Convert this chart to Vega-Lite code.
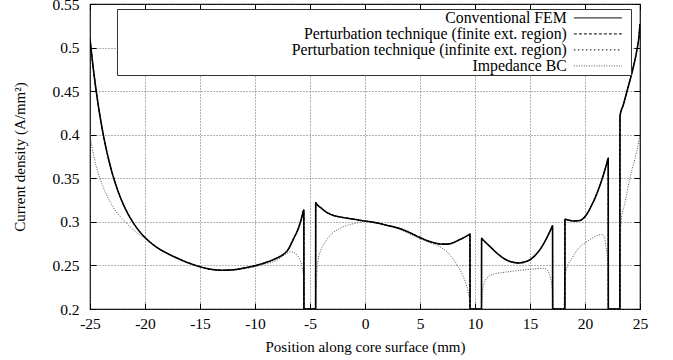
{
  "$schema": "https://vega.github.io/schema/vega-lite/v6.json",
  "width": 550,
  "height": 305,
  "autosize": {"type": "none"},
  "padding": {"left": 90, "top": 4, "right": 33, "bottom": 51},
  "background": "#ffffff",
  "config": {
    "font": "Liberation Serif",
    "view": {"stroke": "#000000", "strokeWidth": 1.2}
  },
  "datasets": {
    "main": [
      {"x": -25, "y": 0.510}, {"x": -24.75, "y": 0.4812}, {"x": -24.5, "y": 0.456}, {"x": -24.25, "y": 0.4339},
      {"x": -24, "y": 0.4145}, {"x": -23.75, "y": 0.3973}, {"x": -23.5, "y": 0.3822}, {"x": -23.25, "y": 0.3688},
      {"x": -23, "y": 0.3569}, {"x": -22.75, "y": 0.3464}, {"x": -22.5, "y": 0.3369}, {"x": -22.25, "y": 0.3285},
      {"x": -22, "y": 0.3209}, {"x": -21.75, "y": 0.3142}, {"x": -21.5, "y": 0.3081}, {"x": -21.25, "y": 0.3026},
      {"x": -21, "y": 0.2976}, {"x": -20.5, "y": 0.2891}, {"x": -20, "y": 0.2821}, {"x": -19.5, "y": 0.2763},
      {"x": -19, "y": 0.2714}, {"x": -18, "y": 0.264}, {"x": -17, "y": 0.258}, {"x": -16, "y": 0.2527},
      {"x": -15, "y": 0.2486}, {"x": -14, "y": 0.2456}, {"x": -13, "y": 0.2445}, {"x": -12, "y": 0.245},
      {"x": -11, "y": 0.247}, {"x": -10, "y": 0.2497}, {"x": -9, "y": 0.2535}, {"x": -8, "y": 0.2585},
      {"x": -7.5, "y": 0.262}, {"x": -7, "y": 0.268}, {"x": -6.5, "y": 0.2805}, {"x": -6, "y": 0.2945},
      {"x": -5.75, "y": 0.305}, {"x": -5.56, "y": 0.3135},
      {"x": -5.55, "y": 0.2}, {"x": -4.49, "y": 0.2}, {"x": -4.48, "y": 0.322}, {"x": -4.4, "y": 0.3205},
      {"x": -4, "y": 0.316}, {"x": -3.5, "y": 0.311}, {"x": -3, "y": 0.308}, {"x": -2, "y": 0.305},
      {"x": -1, "y": 0.303}, {"x": 0, "y": 0.301}, {"x": 1, "y": 0.299}, {"x": 2, "y": 0.296},
      {"x": 3, "y": 0.293}, {"x": 4, "y": 0.288}, {"x": 5, "y": 0.282}, {"x": 6, "y": 0.277},
      {"x": 7, "y": 0.2745}, {"x": 7.5, "y": 0.2745}, {"x": 8, "y": 0.276}, {"x": 8.5, "y": 0.279},
      {"x": 9, "y": 0.282}, {"x": 9.45, "y": 0.2853}, {"x": 9.54, "y": 0.286}, {"x": 9.55, "y": 0.2},
      {"x": 10.59, "y": 0.2}, {"x": 10.6, "y": 0.281}, {"x": 10.7, "y": 0.2797}, {"x": 11, "y": 0.276},
      {"x": 11.5, "y": 0.270}, {"x": 12, "y": 0.264}, {"x": 12.5, "y": 0.259}, {"x": 13, "y": 0.2555},
      {"x": 13.5, "y": 0.2535}, {"x": 14, "y": 0.2528}, {"x": 14.5, "y": 0.254}, {"x": 15, "y": 0.2565},
      {"x": 15.5, "y": 0.262}, {"x": 16, "y": 0.270}, {"x": 16.5, "y": 0.281}, {"x": 16.95, "y": 0.2928},
      {"x": 17.05, "y": 0.2955}, {"x": 17.06, "y": 0.2}, {"x": 18.17, "y": 0.2}, {"x": 18.18, "y": 0.303},
      {"x": 18.5, "y": 0.302}, {"x": 19, "y": 0.301}, {"x": 19.5, "y": 0.3015}, {"x": 20, "y": 0.306},
      {"x": 20.3, "y": 0.3116}, {"x": 20.6, "y": 0.319}, {"x": 20.9, "y": 0.327}, {"x": 21.2, "y": 0.3365},
      {"x": 21.6, "y": 0.351}, {"x": 22.0, "y": 0.368}, {"x": 22.11, "y": 0.3728}, {"x": 22.12, "y": 0.2},
      {"x": 23.17, "y": 0.2}, {"x": 23.18, "y": 0.421}, {"x": 23.5, "y": 0.435}, {"x": 23.8, "y": 0.449},
      {"x": 24.1, "y": 0.463}, {"x": 24.4, "y": 0.478}, {"x": 24.7, "y": 0.496}, {"x": 24.9, "y": 0.512},
      {"x": 25, "y": 0.527}
    ],
    "imp": [
      {"x": -25, "y": 0.400}, {"x": -24.8, "y": 0.385}, {"x": -24.6, "y": 0.372}, {"x": -24.35, "y": 0.360},
      {"x": -24.1, "y": 0.350}, {"x": -23.8, "y": 0.340}, {"x": -23.5, "y": 0.331}, {"x": -23.2, "y": 0.3235},
      {"x": -22.9, "y": 0.317}, {"x": -22.6, "y": 0.3115}, {"x": -22.3, "y": 0.3068}, {"x": -21.8, "y": 0.300},
      {"x": -21.35, "y": 0.2942}, {"x": -20.9, "y": 0.289}, {"x": -20.45, "y": 0.2848},
      {"x": -20, "y": 0.281}, {"x": -19, "y": 0.2712}, {"x": -18, "y": 0.2637}, {"x": -17, "y": 0.2575},
      {"x": -16, "y": 0.2522}, {"x": -15, "y": 0.2482}, {"x": -14, "y": 0.2453}, {"x": -13, "y": 0.2442},
      {"x": -12, "y": 0.2447}, {"x": -11, "y": 0.2462}, {"x": -10, "y": 0.2485}, {"x": -9, "y": 0.252},
      {"x": -8, "y": 0.256}, {"x": -7.5, "y": 0.2605}, {"x": -7, "y": 0.2645}, {"x": -6.8, "y": 0.2657},
      {"x": -6.5, "y": 0.265}, {"x": -6.2, "y": 0.262}, {"x": -5.9, "y": 0.256}, {"x": -5.7, "y": 0.247},
      {"x": -5.56, "y": 0.233}, {"x": -5.55, "y": 0.2}, {"x": -4.49, "y": 0.2}, {"x": -4.4, "y": 0.235},
      {"x": -4.25, "y": 0.257}, {"x": -4, "y": 0.268}, {"x": -3.5, "y": 0.279}, {"x": -3, "y": 0.2865},
      {"x": -2.3, "y": 0.2925}, {"x": -1.5, "y": 0.2965}, {"x": -1, "y": 0.298}, {"x": 0, "y": 0.3005},
      {"x": 1, "y": 0.2985}, {"x": 2, "y": 0.2955}, {"x": 3, "y": 0.292}, {"x": 4, "y": 0.2865},
      {"x": 5, "y": 0.2805}, {"x": 6, "y": 0.2755}, {"x": 6.8, "y": 0.2715}, {"x": 7.5, "y": 0.265},
      {"x": 8, "y": 0.2575}, {"x": 8.5, "y": 0.248}, {"x": 8.9, "y": 0.238}, {"x": 9.2, "y": 0.228},
      {"x": 9.4, "y": 0.218}, {"x": 9.54, "y": 0.205}, {"x": 9.55, "y": 0.2}, {"x": 10.59, "y": 0.2},
      {"x": 10.65, "y": 0.213}, {"x": 10.75, "y": 0.2256}, {"x": 11.06, "y": 0.235}, {"x": 11.67, "y": 0.24},
      {"x": 12.5, "y": 0.2418}, {"x": 13.2, "y": 0.243}, {"x": 14, "y": 0.2443}, {"x": 15, "y": 0.2455},
      {"x": 15.8, "y": 0.2465}, {"x": 16.2, "y": 0.2467}, {"x": 16.5, "y": 0.2455}, {"x": 16.67, "y": 0.243},
      {"x": 16.85, "y": 0.236}, {"x": 17.0, "y": 0.226}, {"x": 17.06, "y": 0.215}, {"x": 17.07, "y": 0.2},
      {"x": 18.09, "y": 0.2}, {"x": 18.15, "y": 0.235}, {"x": 18.33, "y": 0.2467}, {"x": 18.8, "y": 0.258},
      {"x": 19.4, "y": 0.2696}, {"x": 20.15, "y": 0.277}, {"x": 20.9, "y": 0.283}, {"x": 21.5, "y": 0.2856},
      {"x": 21.75, "y": 0.283}, {"x": 21.9, "y": 0.2715}, {"x": 22.05, "y": 0.256}, {"x": 22.11, "y": 0.24},
      {"x": 22.12, "y": 0.2}, {"x": 23.17, "y": 0.2}, {"x": 23.2, "y": 0.27}, {"x": 23.3, "y": 0.303},
      {"x": 23.6, "y": 0.32}, {"x": 24.1, "y": 0.351}, {"x": 24.7, "y": 0.381}, {"x": 25, "y": 0.40}
    ]
  },
  "layer": [
    {
      "data": {"name": "imp"},
      "mark": {"type": "line", "strokeWidth": 1, "clip": true, "interpolate": "monotone"},
      "encoding": {
        "x": {
          "field": "x", "type": "quantitative",
          "scale": {"domain": [-25, 25], "nice": false, "zero": false},
          "axis": {
            "orient": "bottom", "values": [-25, -20, -15, -10, -5, 0, 5, 10, 15, 20, 25],
            "labelExpr": "datum.value < 0 ? '-' + (-datum.value) : '' + datum.value",
            "title": "Position along core surface (mm)",
            "grid": true, "gridColor": "#555555", "gridDash": [1, 2], "gridWidth": 0.9,
            "domain": false, "ticks": true, "tickSize": -6, "tickColor": "#000000", "tickWidth": 1,
            "labelPadding": 13, "labelFontSize": 15.5, "labelColor": "#000000", "labelFlush": false,
            "labelFont": "Liberation Serif",
            "titleFont": "Liberation Serif", "titleFontSize": 15, "titleFontWeight": "normal", "titleColor": "#000000", "titlePadding": 8
          }
        },
        "y": {
          "field": "y", "type": "quantitative",
          "scale": {"domain": [0.2, 0.55], "nice": false, "zero": false},
          "axis": {
            "orient": "left", "values": [0.2, 0.25, 0.3, 0.35, 0.4, 0.45, 0.5, 0.55], "format": ".2~f",
            "title": "Current density (A/mm²)",
            "grid": true, "gridColor": "#555555", "gridDash": [1, 2], "gridWidth": 0.9,
            "domain": false, "ticks": true, "tickSize": -6, "tickColor": "#000000", "tickWidth": 1,
            "labelPadding": 17, "labelFontSize": 15.5, "labelColor": "#000000", "labelFlush": false,
            "labelFont": "Liberation Serif",
            "titleFont": "Liberation Serif", "titleFontSize": 15, "titleFontWeight": "normal", "titleColor": "#000000", "titlePadding": 24
          }
        },
        "color": {
          "datum": "Impedance BC", "type": "nominal",
          "scale": {
            "domain": ["Conventional FEM", "Perturbation technique (finite ext. region)", "Perturbation technique (infinite ext. region)", "Impedance BC"],
            "range": ["#000000", "#000000", "#000000", "#555555"]
          },
          "legend": {
            "title": " ", "titleOrient": "right", "titlePadding": 6, "titleFontSize": 15,
            "orient": "none", "legendX": 27, "legendY": 5, "direction": "vertical",
            "fillColor": "#ffffff", "strokeColor": "#333333", "padding": 1,
            "symbolType": "M-4,0H4", "symbolSize": 144, "symbolStrokeWidth": 1,
            "labelAlign": "right", "labelOffset": -39, "symbolOffset": 472, "labelLimit": 600,
            "labelFontSize": 15.8, "labelColor": "#000000", "labelFont": "Liberation Serif",
            "rowPadding": -2.6
          }
        },
        "strokeDash": {
          "datum": "Impedance BC", "type": "nominal",
          "scale": {
            "domain": ["Conventional FEM", "Perturbation technique (finite ext. region)", "Perturbation technique (infinite ext. region)", "Impedance BC"],
            "range": [[1, 0], [3, 2], [1.5, 2.5], [1, 1.5]]
          },
          "legend": {
            "title": " ", "titleOrient": "right", "titlePadding": 6, "titleFontSize": 15,
            "orient": "none", "legendX": 27, "legendY": 5, "direction": "vertical",
            "fillColor": "#ffffff", "strokeColor": "#333333", "padding": 1,
            "symbolType": "M-4,0H4", "symbolSize": 144, "symbolStrokeWidth": 1,
            "labelAlign": "right", "labelOffset": -39, "symbolOffset": 472, "labelLimit": 600,
            "labelFontSize": 15.8, "labelColor": "#000000", "labelFont": "Liberation Serif",
            "rowPadding": -2.6
          }
        }
      }
    },
    {
      "data": {"name": "main"},
      "mark": {"type": "line", "strokeWidth": 1, "clip": true, "interpolate": "monotone"},
      "encoding": {
        "x": {
          "field": "x", "type": "quantitative",
          "axis": {
            "orient": "top", "values": [-25, -20, -15, -10, -5, 0, 5, 10, 15, 20, 25],
            "labels": false, "title": null, "grid": false, "domain": false,
            "ticks": true, "tickSize": -6, "tickColor": "#000000", "tickWidth": 1
          }
        },
        "y": {
          "field": "y", "type": "quantitative",
          "axis": {
            "orient": "right", "values": [0.2, 0.25, 0.3, 0.35, 0.4, 0.45, 0.5, 0.55],
            "labels": false, "title": null, "grid": false, "domain": false,
            "ticks": true, "tickSize": -6, "tickColor": "#000000", "tickWidth": 1
          }
        },
        "color": {"datum": "Perturbation technique (infinite ext. region)", "type": "nominal"},
        "strokeDash": {"datum": "Perturbation technique (infinite ext. region)", "type": "nominal"}
      }
    },
    {
      "data": {"name": "main"},
      "mark": {"type": "line", "strokeWidth": 1, "clip": true, "interpolate": "monotone"},
      "encoding": {
        "x": {"field": "x", "type": "quantitative", "axis": null},
        "y": {"field": "y", "type": "quantitative", "axis": null},
        "color": {"datum": "Perturbation technique (finite ext. region)", "type": "nominal"},
        "strokeDash": {"datum": "Perturbation technique (finite ext. region)", "type": "nominal"}
      }
    },
    {
      "data": {"name": "main"},
      "mark": {"type": "line", "strokeWidth": 1.6, "clip": true, "interpolate": "monotone"},
      "encoding": {
        "x": {"field": "x", "type": "quantitative", "axis": null},
        "y": {"field": "y", "type": "quantitative", "axis": null},
        "color": {"datum": "Conventional FEM", "type": "nominal"},
        "strokeDash": {"datum": "Conventional FEM", "type": "nominal"}
      }
    }
  ],
  "resolve": {"axis": {"x": "independent", "y": "independent"}}
}
